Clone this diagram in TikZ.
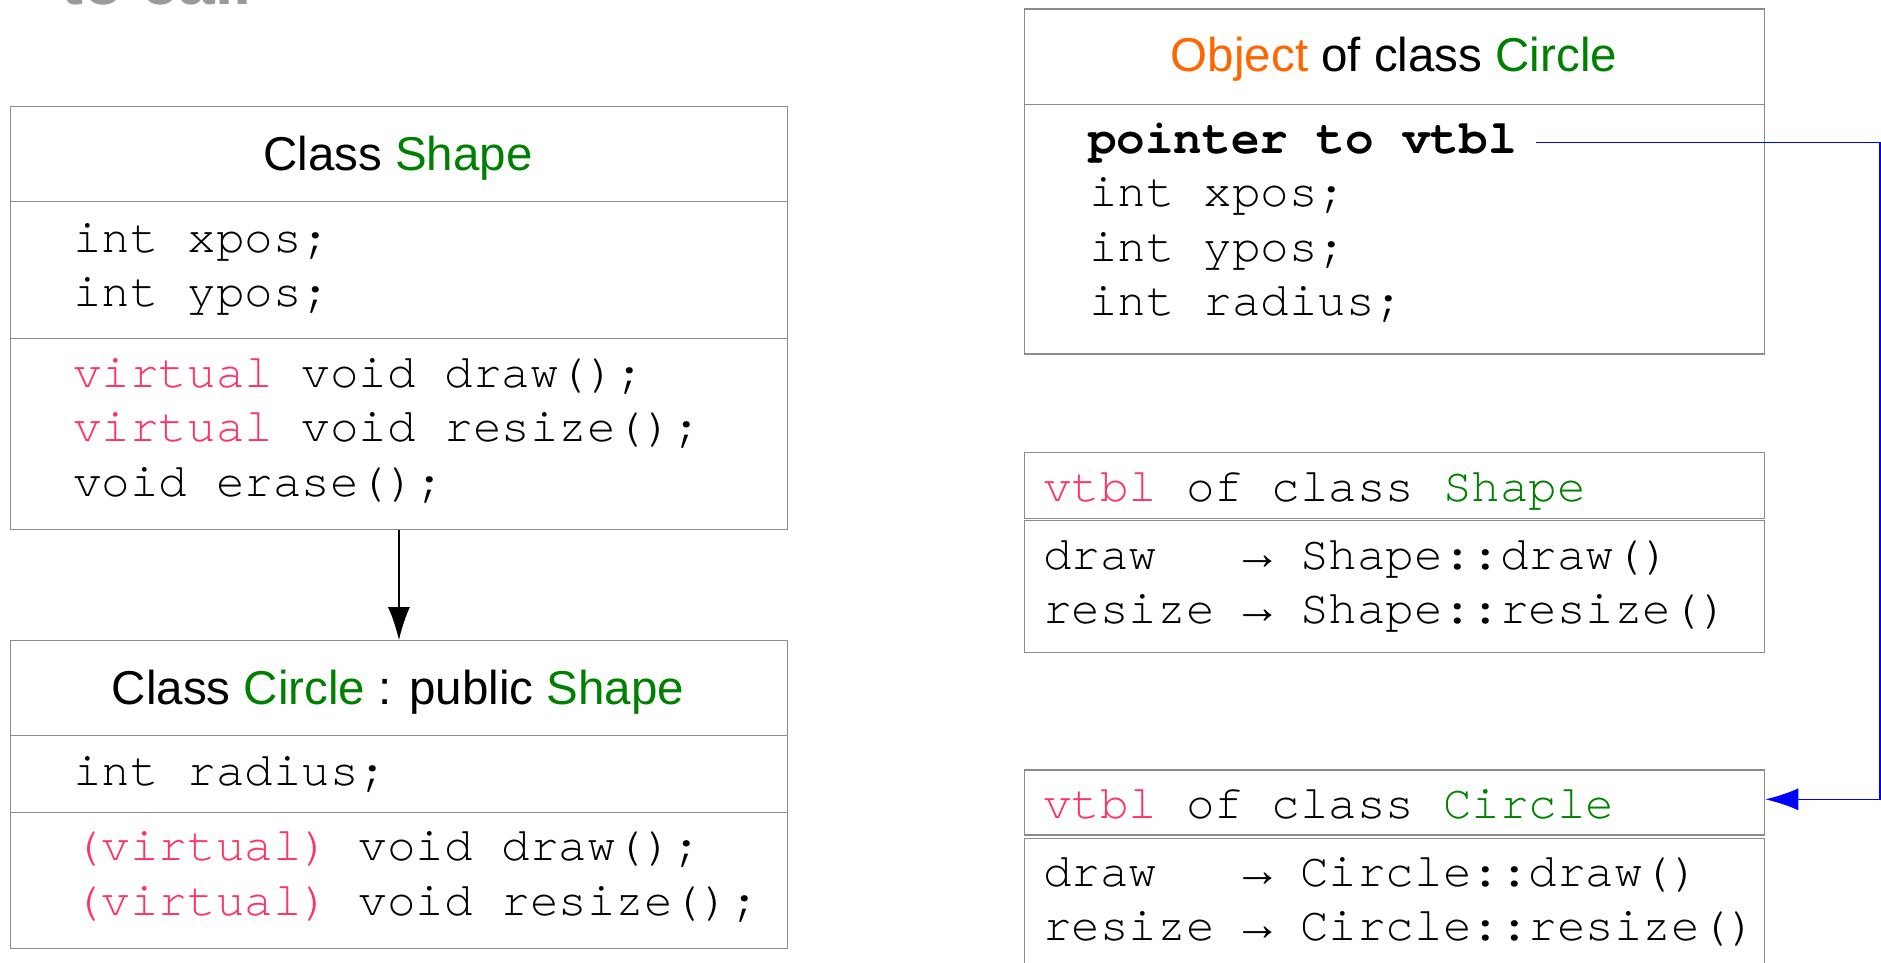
\documentclass[tikz,border=0pt]{standalone}
\usepackage{fontspec}
\setmainfont{Liberation Sans}
\setmonofont{TeX Gyre Cursor}
\newfontfamily\arrowfam{Liberation Mono}
\usetikzlibrary{arrows.meta}
\definecolor{cgreen}{HTML}{008000}
\definecolor{cpink}{HTML}{FF3366}
\definecolor{corange}{HTML}{FF6600}
\definecolor{boxgray}{HTML}{8C8C8C}
\definecolor{titlegray}{HTML}{9A9A9A}
\definecolor{cblue}{HTML}{0000FF}
\newcommand\monof{\ttfamily\fontsize{47.6}{54}\selectfont}
\newcommand\sansf{\rmfamily\fontsize{47.5}{56}\selectfont}
\newcommand\toarr{{\arrowfam →}}
\begin{document}
\begin{tikzpicture}[x=1pt,y=-1pt,
  box/.style={draw=boxgray,line width=1.3pt,anchor=north west,inner sep=0pt},
  divider/.style={draw=boxgray,line width=1.3pt},
  code/.style={anchor=base west,inner sep=0pt,font=\monof},
  head/.style={anchor=base,inner sep=0pt,font=\sansf},
  conn/.style={line width=1.2pt,-{Latex[length=33pt,width=22pt]}}]
\fill[white] (0,0) rectangle (1881,962);
\useasboundingbox (0,0) rectangle (1881,962);

% partially visible title
\node[anchor=base west,inner sep=0pt,text=titlegray,font=\rmfamily\bfseries\fontsize{66}{70}\selectfont] (title) at (61,4) {to call};

% Class Shape
\node[box,minimum width=777.4pt,minimum height=423.4pt] (shape) at (9.6,105.6) {};
\draw[divider] (9.6,201.6) -- (787,201.6);
\draw[divider] (9.6,338.4) -- (787,338.4);
\node[head] (shapeh) at (398,170.7) {Class \textcolor{cgreen}{Shape}};
\node[code] (s1) at (73,252.7) {int xpos;};
\node[code] (s2) at (73,306) {int ypos;};
\node[code] (s3) at (73,387) {\textcolor{cpink}{virtual} void draw();};
\node[code] (s4) at (73,441.7) {\textcolor{cpink}{virtual} void resize();};
\node[code] (s5) at (73,496.7) {void erase();};

% Class Circle
\node[box,minimum width=777.4pt,minimum height=308pt] (circle) at (9.6,640) {};
\draw[divider] (9.6,735.6) -- (787,735.6);
\draw[divider] (9.6,812.4) -- (787,812.4);
\node[head] (circleh) at (398,704) {Class \textcolor{cgreen}{Circle} : public \textcolor{cgreen}{Shape}};
\node[code] (c1) at (73,785.7) {int radius;};
\node[code] (c2) at (73,860.7) {\textcolor{cpink}{(virtual)} void draw();};
\node[code] (c3) at (73,915.7) {\textcolor{cpink}{(virtual)} void resize();};

\draw[conn,black] (shape.south) -- (circle.north);

% Object of class Circle
\node[box,minimum width=740pt,minimum height=345pt] (obj) at (1024,8.4) {};
\draw[divider] (1024,104.4) -- (1764,104.4);
\node[head] (objh) at (1394,71.7) {\textcolor{corange}{Object} of class \textcolor{cgreen}{Circle}};
\node[code,font=\monof\bfseries] (ptr) at (1088,153.3) {pointer to vtbl};
\node[code] (o1) at (1089,206.7) {int xpos;};
\node[code] (o2) at (1089,261.7) {int ypos;};
\node[code] (o3) at (1089,315) {int radius;};

% vtbl of class Shape
\node[box,minimum width=740pt,minimum height=65.7pt] (vsh) at (1024,452) {};
\node[box,minimum width=740pt,minimum height=132pt] (vsb) at (1024,520) {};
\node[code] (vs0) at (1043,501.7) {\textcolor{cpink}{vtbl} of class \textcolor{cgreen}{Shape}};
\node[code] (vs1) at (1043,569.3) {draw\ \ \ \toarr{} Shape::draw()};
\node[code] (vs2) at (1043,623.3) {resize \toarr{} Shape::resize()};

% vtbl of class Circle
\node[box,minimum width=740pt,minimum height=65pt] (vch) at (1024,769.3) {};
\node[box,minimum width=740pt,minimum height=200pt] (vcb) at (1024,837.8) {};
\node[code] (vc0) at (1043,818.3) {\textcolor{cpink}{vtbl} of class \textcolor{cgreen}{Circle}};
\node[code] (vc1) at (1043,886.7) {draw\ \ \ \toarr{} Circle::draw()};
\node[code] (vc2) at (1043,940) {resize \toarr{} Circle::resize()};

% pointer connector
\coordinate (pstart) at (1536,142.5);
\coordinate (pcorner) at (1880,799.3);
\draw[conn,cblue] (pstart) -| (pcorner) -- (vch.east |- pcorner);
\end{tikzpicture}
\end{document}
